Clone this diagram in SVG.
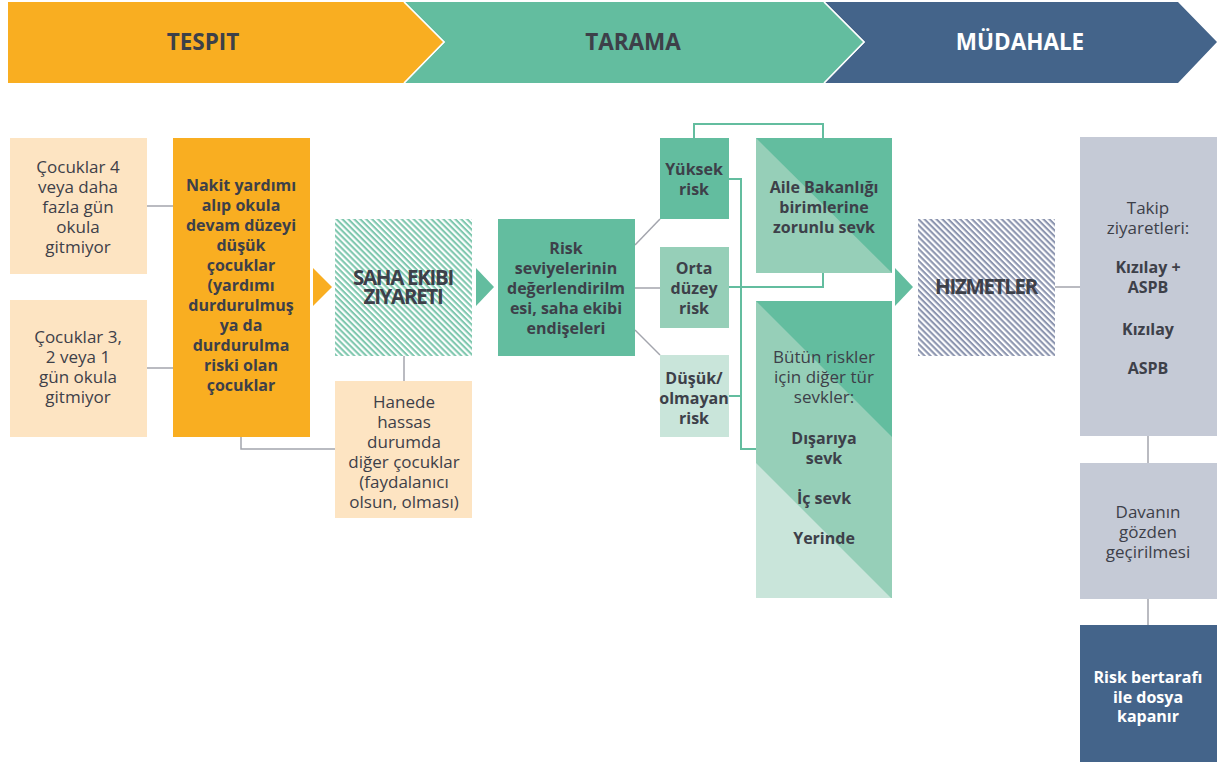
<svg xmlns="http://www.w3.org/2000/svg" width="1219" height="765" viewBox="0 0 1219 765">
<style>
text{font-family:"Open Sans","Liberation Sans",sans-serif;fill:#3d4049;text-anchor:middle}
.r{font-size:17px}
.b{font-size:16px;font-weight:bold}
.h{font-size:22.5px;font-weight:bold}
.s{font-size:20.5px;font-weight:bold;letter-spacing:-1.3px}
.w{fill:#ffffff}
.gl{stroke:#a3a5ad;stroke-width:1.5;fill:none}
.tl{stroke:#63bd9f;stroke-width:2;fill:none}
.peach{fill:#fde4c2}
.grey{fill:#c5cad6}
</style>
<defs>
<pattern id="hT" width="4.2" height="4.2" patternUnits="userSpaceOnUse" patternTransform="rotate(45)">
<rect width="4.2" height="4.2" fill="#ffffff"/><rect width="4.2" height="2.1" fill="#80c8af"/>
</pattern>
<pattern id="hN" width="4.2" height="4.2" patternUnits="userSpaceOnUse" patternTransform="rotate(45)">
<rect width="4.2" height="4.2" fill="#ffffff"/><rect width="4.2" height="2.1" fill="#8d96b0"/>
</pattern>
</defs>
<rect width="1219" height="765" fill="#ffffff"/>
<g id="header">
<polygon points="8,2 404,2 444,42 404,83 8,83" fill="#f9ae21"/>
<polygon points="405,2 824,2 864,42 824,83 405,83 445,42" fill="#63bd9f"/>
<polygon points="825,2 1178,2 1217,42 1178,83 825,83 865,42" fill="#44648a"/>
<polyline points="404,2 444,42 404,83" stroke="#ffffff" stroke-width="1.5" fill="none"/>
<polyline points="824,2 864,42 824,83" stroke="#ffffff" stroke-width="1.5" fill="none"/>
<text class="h" x="203" y="50">TESPIT</text>
<text class="h" x="633" y="50">TARAMA</text>
<text class="h w" x="1020" y="50">MÜDAHALE</text>
</g>
<g id="connectors">
<line class="gl" x1="147" y1="206" x2="173" y2="206"/>
<line class="gl" x1="147" y1="368" x2="173" y2="368"/>
<polyline class="gl" points="241,437 241,449 335,449"/>
<line class="gl" x1="404" y1="356" x2="404" y2="381"/>
<line class="gl" x1="635" y1="245" x2="660" y2="219"/>
<line class="gl" x1="635" y1="288" x2="660" y2="288"/>
<line class="gl" x1="635" y1="330" x2="660" y2="355"/>
<polyline class="tl" points="694,138 694,124 823,124 823,138"/>
<polyline class="tl" points="729,179 741,179 741,449 756,449"/>
<line class="tl" x1="729" y1="396" x2="741" y2="396"/>
<polyline class="tl" points="729,287 823,287 823,273"/>
<line class="gl" x1="1055" y1="287" x2="1080" y2="287"/>
<line class="gl" x1="1148" y1="436" x2="1148" y2="463"/>
<line class="gl" x1="1148" y1="599" x2="1148" y2="625"/>
<polygon points="313,268 332,287 313,306" fill="#f9ae21"/>
<polygon points="476,268 494,287 476,306" fill="#63bd9f"/>
<polygon points="895,268 913,287 895,306" fill="#63bd9f"/>
</g>
<g id="n-cocuklar4">
<rect class="peach" x="10" y="138" width="137" height="136"/>
<text class="r" x="78" y="173">Çocuklar 4</text>
<text class="r" x="78" y="193">veya daha</text>
<text class="r" x="78" y="213">fazla gün</text>
<text class="r" x="78" y="233">okula</text>
<text class="r" x="78" y="253">gitmiyor</text>
</g>
<g id="n-cocuklar3">
<rect class="peach" x="10" y="300" width="137" height="137"/>
<text class="r" x="78" y="343">Çocuklar 3,</text>
<text class="r" x="78" y="363">2 veya 1</text>
<text class="r" x="78" y="383">gün okula</text>
<text class="r" x="78" y="403">gitmiyor</text>
</g>
<g id="n-nakit">
<rect x="173" y="138" width="137" height="299" fill="#f9ae21"/>
<text class="b" x="241" y="191">Nakit yardımı</text>
<text class="b" x="241" y="211">alıp okula</text>
<text class="b" x="241" y="231">devam düzeyi</text>
<text class="b" x="241" y="251">düşük</text>
<text class="b" x="241" y="271">çocuklar</text>
<text class="b" x="241" y="291">(yardımı</text>
<text class="b" x="241" y="311">durdurulmuş</text>
<text class="b" x="241" y="331">ya da</text>
<text class="b" x="241" y="351">durdurulma</text>
<text class="b" x="241" y="371">riski olan</text>
<text class="b" x="241" y="391">çocuklar</text>
</g>
<g id="n-saha">
<rect x="335" y="219" width="137" height="137" fill="url(#hT)"/>
<text class="s" x="403" y="285">SAHA EKIBI</text>
<text class="s" x="403" y="304">ZIYARETI</text>
</g>
<g id="n-hanede">
<rect class="peach" x="335" y="381" width="137" height="137"/>
<text class="r" x="404" y="408">Hanede</text>
<text class="r" x="404" y="428">hassas</text>
<text class="r" x="404" y="448">durumda</text>
<text class="r" x="404" y="468">diğer çocuklar</text>
<text class="r" x="404" y="488">(faydalanıcı</text>
<text class="r" x="404" y="508">olsun, olması)</text>
</g>
<g id="n-risk">
<rect x="498" y="219" width="137" height="137" fill="#63bd9f"/>
<text class="b" x="566" y="254">Risk</text>
<text class="b" x="566" y="274">seviyelerinin</text>
<text class="b" x="566" y="294">değerlendirilm</text>
<text class="b" x="566" y="314">esi, saha ekibi</text>
<text class="b" x="566" y="334">endişeleri</text>
</g>
<g id="n-yuksek">
<rect x="660" y="138" width="69" height="81" fill="#63bd9f"/>
<text class="b" x="694" y="175">Yüksek</text>
<text class="b" x="694" y="195">risk</text>
</g>
<g id="n-orta">
<rect x="660" y="247" width="69" height="81" fill="#96cfb8"/>
<text class="b" x="694" y="274">Orta</text>
<text class="b" x="694" y="294">düzey</text>
<text class="b" x="694" y="314">risk</text>
</g>
<g id="n-dusuk">
<rect x="660" y="355" width="69" height="82" fill="#c9e5da"/>
<text class="b" x="694" y="384">Düşük/</text>
<text class="b" x="694" y="404">olmayan</text>
<text class="b" x="694" y="424">risk</text>
</g>
<g id="n-aile">
<rect x="756" y="138" width="136" height="135" fill="#96cfb8"/>
<polygon points="756,138 892,138 892,273" fill="#63bd9f"/>
<text class="b" x="824" y="193">Aile Bakanlığı</text>
<text class="b" x="824" y="213">birimlerine</text>
<text class="b" x="824" y="233">zorunlu sevk</text>
</g>
<g id="n-butun">
<rect x="756" y="301" width="136" height="297" fill="#96cfb8"/>
<polygon points="756,301 892,301 892,437" fill="#63bd9f"/>
<polygon points="756,463 756,598 891,598" fill="#c9e5da"/>
<text class="r" x="824" y="363">Bütün riskler</text>
<text class="r" x="824" y="383">için diğer tür</text>
<text class="r" x="824" y="403">sevkler:</text>
<text class="b" x="824" y="444">Dışarıya</text>
<text class="b" x="824" y="464">sevk</text>
<text class="b" x="824" y="504">İç sevk</text>
<text class="b" x="824" y="544">Yerinde</text>
</g>
<g id="n-hizmetler">
<rect x="918" y="219" width="137" height="137" fill="url(#hN)"/>
<text class="s" x="986" y="294">HIZMETLER</text>
</g>
<g id="n-takip">
<rect class="grey" x="1080" y="137" width="137" height="299"/>
<text class="r" x="1148" y="214">Takip</text>
<text class="r" x="1148" y="234">ziyaretleri:</text>
<text class="b" x="1148" y="273">Kızılay +</text>
<text class="b" x="1148" y="293">ASPB</text>
<text class="b" x="1148" y="335">Kızılay</text>
<text class="b" x="1148" y="374">ASPB</text>
</g>
<g id="n-davanin">
<rect class="grey" x="1080" y="463" width="137" height="136"/>
<text class="r" x="1148" y="518">Davanın</text>
<text class="r" x="1148" y="538">gözden</text>
<text class="r" x="1148" y="558">geçirilmesi</text>
</g>
<g id="n-kapanir">
<rect x="1080" y="625" width="137" height="137" fill="#44648a"/>
<text class="b w" x="1148" y="683">Risk bertarafı</text>
<text class="b w" x="1148" y="703">ile dosya</text>
<text class="b w" x="1148" y="722">kapanır</text>
</g>
</svg>
